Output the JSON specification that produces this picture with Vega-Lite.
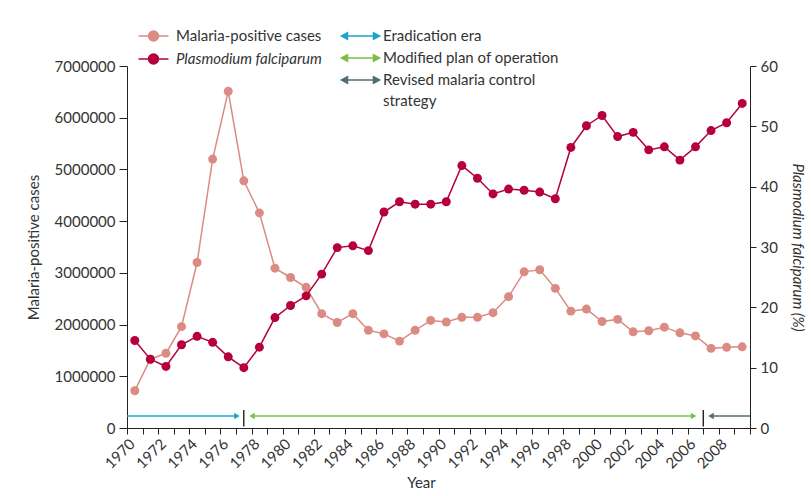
{
  "$schema": "https://vega.github.io/schema/vega-lite/v6.json",
  "width": 623,
  "height": 362,
  "autosize": {"type": "none"},
  "padding": {"left": 127, "top": 66, "right": 61, "bottom": 68},
  "background": "white",
  "config": {
    "view": {"stroke": null},
    "font": "Lato",
    "axis": {
      "labelFont": "Lato", "labelFontSize": 15, "labelColor": "#333333",
      "titleFont": "Lato", "titleFontSize": 15, "titleColor": "#333333", "titleFontWeight": "normal",
      "domainColor": "#222222", "tickColor": "#222222", "grid": false
    },
    "axisX": {
      "tickCount": {"interval": "year", "step": 1},
      "labelExpr": "utcyear(datum.value) % 2 == 0 && utcyear(datum.value) < 2010 ? utcFormat(datum.value, '%Y') : ''",
      "labelOverlap": false, "labelFlush": false
    },
    "legend": {"labelFont": "Lato", "labelFontSize": 15, "labelColor": "#333333"}
  },
  "datasets": {
    "series": [
      {"year": "1970", "cases": 720000, "pf": 14.5},
      {"year": "1971", "cases": 1330000, "pf": 11.4},
      {"year": "1972", "cases": 1445000, "pf": 10.2},
      {"year": "1973", "cases": 1960000, "pf": 13.8},
      {"year": "1974", "cases": 3200000, "pf": 15.2},
      {"year": "1975", "cases": 5200000, "pf": 14.2},
      {"year": "1976", "cases": 6510000, "pf": 11.8},
      {"year": "1977", "cases": 4780000, "pf": 10.0},
      {"year": "1978", "cases": 4160000, "pf": 13.4},
      {"year": "1979", "cases": 3090000, "pf": 18.3},
      {"year": "1980", "cases": 2910000, "pf": 20.3},
      {"year": "1981", "cases": 2720000, "pf": 21.9},
      {"year": "1982", "cases": 2210000, "pf": 25.5},
      {"year": "1983", "cases": 2040000, "pf": 29.9},
      {"year": "1984", "cases": 2210000, "pf": 30.2},
      {"year": "1985", "cases": 1890000, "pf": 29.4},
      {"year": "1986", "cases": 1820000, "pf": 35.8},
      {"year": "1987", "cases": 1680000, "pf": 37.5},
      {"year": "1988", "cases": 1890000, "pf": 37.1},
      {"year": "1989", "cases": 2080000, "pf": 37.1},
      {"year": "1990", "cases": 2050000, "pf": 37.5},
      {"year": "1991", "cases": 2140000, "pf": 43.5},
      {"year": "1992", "cases": 2140000, "pf": 41.4},
      {"year": "1993", "cases": 2230000, "pf": 38.8},
      {"year": "1994", "cases": 2540000, "pf": 39.6},
      {"year": "1995", "cases": 3020000, "pf": 39.4},
      {"year": "1996", "cases": 3060000, "pf": 39.1},
      {"year": "1997", "cases": 2700000, "pf": 38.0},
      {"year": "1998", "cases": 2260000, "pf": 46.5},
      {"year": "1999", "cases": 2300000, "pf": 50.1},
      {"year": "2000", "cases": 2060000, "pf": 51.8},
      {"year": "2001", "cases": 2100000, "pf": 48.3},
      {"year": "2002", "cases": 1860000, "pf": 49.0},
      {"year": "2003", "cases": 1880000, "pf": 46.1},
      {"year": "2004", "cases": 1950000, "pf": 46.6},
      {"year": "2005", "cases": 1840000, "pf": 44.4},
      {"year": "2006", "cases": 1780000, "pf": 46.6},
      {"year": "2007", "cases": 1540000, "pf": 49.3},
      {"year": "2008", "cases": 1560000, "pf": 50.6},
      {"year": "2009", "cases": 1570000, "pf": 53.8}
    ],
    "eras": [
      {"era": "Eradication era", "start": "1970-01-01", "end": "1977-01-22"},
      {"era": "Modified plan of operation", "start": "1978-01-10", "end": "2006-05-22"},
      {"era": "Revised malaria control strategy", "start": "2007-07-01", "end": "2010-01-01"}
    ],
    "heads": [
      {"era": "Eradication era", "date": "1977-01-22", "dir": "right"},
      {"era": "Modified plan of operation", "date": "1978-01-10", "dir": "left"},
      {"era": "Modified plan of operation", "date": "2006-05-22", "dir": "right"},
      {"era": "Revised malaria control strategy", "date": "2007-07-01", "dir": "left"}
    ],
    "separators": [
      {"date": "1977-07-02"},
      {"date": "2007-01-01"}
    ]
  },
  "layer": [
    {
      "layer": [
        {
          "data": {"name": "eras"},
          "mark": {"type": "rule", "strokeWidth": 1.5},
          "encoding": {
            "x": {
              "field": "start", "type": "temporal",
              "scale": {"type": "utc", "domain": [{"year": 1970, "month": 1, "date": 1, "utc": true}, {"year": 2010, "month": 1, "date": 1, "utc": true}]},
              "axis": {
                "title": "Year",
                "tickCount": {"interval": "year", "step": 1},
                "labelExpr": "utcyear(datum.value) % 2 == 0 && utcyear(datum.value) < 2010 ? utcFormat(datum.value, '%Y') : ''",
                "labelAngle": -45, "labelAlign": "right", "labelBaseline": "top",
                "labelOverlap": false, "labelFlush": false, "labelPadding": 2,
                "tickSize": 6, "titleX": 294, "titleY": 54, "titleBaseline": "middle"
              }
            },
            "x2": {"field": "end"},
            "y": {"datum": 232000, "type": "quantitative"},
            "stroke": {
              "field": "era", "type": "nominal",
              "scale": {"domain": ["Eradication era", "Modified plan of operation", "Revised malaria control strategy"], "range": ["#1ea3cb", "#7cbf45", "#4f6c79"]},
              "legend": {
                "title": null, "orient": "none", "legendX": 239, "legendY": -37.5,
                "symbolType": "M-5.33,0L1,0M-5.33,0L-4.33,-0.53L-4.33,0.53ZM1,0L0,-0.53L0,0.53Z",
                "symbolSize": 144, "symbolStrokeWidth": 1.5, "labelOffset": 2, "rowPadding": 6,
                "labelLimit": 400,
                "labelExpr": "datum.label == 'Revised malaria control strategy' ? ['Revised malaria control', 'strategy'] : datum.label",
                "encode": {
                  "symbols": {"update": {"fill": {"scale": "stroke", "field": "value"}, "fillOpacity": {"value": 1}}},
                  "labels": {"update": {"lineHeight": {"value": 21}}}
                }
              }
            }
          }
        },
        {
          "data": {"name": "heads"},
          "mark": {"type": "point", "filled": true, "size": 40, "opacity": 1},
          "encoding": {
            "x": {"field": "date", "type": "temporal", "scale": {"type": "utc"}, "title": "Year"},
            "y": {"datum": 232000, "type": "quantitative"},
            "shape": {"field": "dir", "type": "nominal", "scale": {"domain": ["right", "left"], "range": ["triangle-right", "triangle-left"]}, "legend": null},
            "fill": {
              "field": "era", "type": "nominal",
              "scale": {"domain": ["Eradication era", "Modified plan of operation", "Revised malaria control strategy"], "range": ["#1ea3cb", "#7cbf45", "#4f6c79"]},
              "legend": null
            }
          }
        },
        {
          "data": {"name": "separators"},
          "mark": {"type": "rule", "strokeWidth": 1.3, "color": "#111111"},
          "encoding": {
            "x": {"field": "date", "type": "temporal", "scale": {"type": "utc"}, "title": "Year"},
            "y": {"datum": 350000, "type": "quantitative"},
            "y2": {"datum": 30000}
          }
        },
        {
          "data": {"name": "series"},
          "mark": {"type": "line", "strokeWidth": 1.5},
          "encoding": {
            "x": {"field": "year", "timeUnit": "utcyear", "type": "temporal", "bandPosition": 0.5, "scale": {"type": "utc"}, "title": "Year"},
            "y": {
              "field": "cases", "type": "quantitative",
              "scale": {"domain": [0, 7000000], "nice": false},
              "axis": {
                "title": "Malaria-positive cases", "values": [0, 1000000, 2000000, 3000000, 4000000, 5000000, 6000000, 7000000],
                "format": "d", "tickSize": 8, "labelPadding": 4, "titlePadding": 13
              }
            },
            "color": {
              "datum": "Malaria-positive cases", "type": "nominal",
              "scale": {"domain": ["Malaria-positive cases", "Plasmodium falciparum"], "range": ["#dc8a84", "#b5003a"]},
              "legend": {
                "title": null, "orient": "none", "legendX": 28, "legendY": -37.5,
                "symbolType": "M-4,0L-2.33,0M-0.67,0L1,0M-2.33,0A0.83,0.83,0,1,1,-0.67,0A0.83,0.83,0,1,1,-2.33,0Z",
                "symbolSize": 144, "symbolStrokeWidth": 1.5, "labelOffset": 6, "rowPadding": 6,
                "encode": {
                  "symbols": {"update": {"fill": {"scale": "color", "field": "value"}, "stroke": {"scale": "color", "field": "value"}, "fillOpacity": {"value": 1}, "opacity": {"value": 1}}},
                  "labels": {"update": {"fontStyle": {"signal": "datum.value == 'Plasmodium falciparum' ? 'italic' : 'normal'"}}}
                }
              }
            }
          }
        },
        {
          "data": {"name": "series"},
          "mark": {"type": "point", "filled": true, "size": 80, "opacity": 1},
          "encoding": {
            "x": {"field": "year", "timeUnit": "utcyear", "type": "temporal", "bandPosition": 0.5, "scale": {"type": "utc"}, "title": "Year"},
            "y": {"field": "cases", "type": "quantitative"},
            "color": {"datum": "Malaria-positive cases", "type": "nominal"}
          }
        }
      ]
    },
    {
      "data": {"name": "series"},
      "layer": [
        {
          "mark": {"type": "line", "strokeWidth": 1.5},
          "encoding": {
            "x": {"field": "year", "timeUnit": "utcyear", "type": "temporal", "bandPosition": 0.5, "scale": {"type": "utc"}, "title": "Year"},
            "y": {
              "field": "pf", "type": "quantitative",
              "scale": {"domain": [0, 60], "nice": false},
              "axis": {
                "orient": "right", "title": "Plasmodium falciparum (%)", "titleFontStyle": "italic",
                "values": [0, 10, 20, 30, 40, 50, 60], "tickSize": 6, "labelPadding": 4, "titlePadding": 12
              }
            },
            "color": {"datum": "Plasmodium falciparum", "type": "nominal"}
          }
        },
        {
          "mark": {"type": "point", "filled": true, "size": 80, "opacity": 1},
          "encoding": {
            "x": {"field": "year", "timeUnit": "utcyear", "type": "temporal", "bandPosition": 0.5, "scale": {"type": "utc"}, "title": "Year"},
            "y": {"field": "pf", "type": "quantitative"},
            "color": {"datum": "Plasmodium falciparum", "type": "nominal"}
          }
        }
      ]
    }
  ],
  "resolve": {"scale": {"y": "independent"}}
}
